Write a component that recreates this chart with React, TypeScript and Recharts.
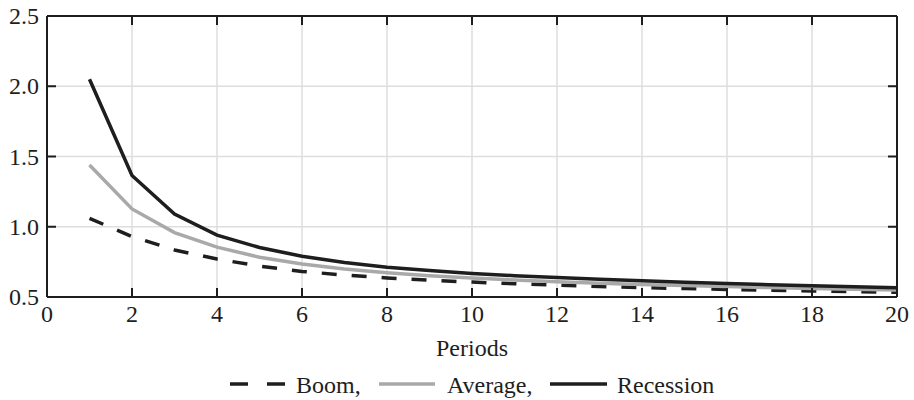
import React from "react";
import {
  LineChart,
  Line,
  XAxis,
  YAxis,
  CartesianGrid,
  ReferenceLine,
} from "recharts";

const periods = [1, 2, 3, 4, 5, 6, 7, 8, 9, 10, 11, 12, 13, 14, 15, 16, 17, 18, 19, 20];
const boom = [1.06, 0.93, 0.835, 0.77, 0.72, 0.682, 0.656, 0.636, 0.62, 0.606, 0.594, 0.584, 0.575, 0.567, 0.56, 0.554, 0.548, 0.543, 0.538, 0.533];
const average = [1.44, 1.127, 0.958, 0.855, 0.783, 0.735, 0.7, 0.673, 0.652, 0.635, 0.621, 0.609, 0.598, 0.589, 0.581, 0.574, 0.567, 0.561, 0.555, 0.55];
const recession = [2.05, 1.365, 1.09, 0.94, 0.852, 0.79, 0.745, 0.712, 0.688, 0.668, 0.652, 0.638, 0.626, 0.615, 0.605, 0.596, 0.588, 0.58, 0.573, 0.565];

const xTicks = [0, 2, 4, 6, 8, 10, 12, 14, 16, 18, 20];
const yTicks = [0.5, 1.0, 1.5, 2.0, 2.5];

const data = periods.map((p, i) => ({
  period: p,
  boom: boom[i],
  average: average[i],
  recession: recession[i],
}));

const FONT = "Liberation Serif";
const INK = "#1e1e1e";
const GRAY = "#a9a9a9";

// plot box edges, follow from the chart margins below
const PLOT_TOP = 16;
const PLOT_RIGHT = 897;
const TICK = 9;

// bottom label + the matching inward tick on the top frame
const XTick = (props: any) => {
  const { x, y, payload } = props;
  return (
    <g>
      <text x={x} y={y + 17} textAnchor="middle" fontFamily={FONT} fontSize={24} fill={INK}>
        {payload.value}
      </text>
      <line x1={x} x2={x} y1={PLOT_TOP} y2={PLOT_TOP + TICK} stroke={INK} strokeWidth={2} />
    </g>
  );
};

// left label + the matching inward tick on the right frame
const YTick = (props: any) => {
  const { x, y, payload } = props;
  return (
    <g>
      <text x={x} y={y + 8} textAnchor="end" fontFamily={FONT} fontSize={24} fill={INK}>
        {Number(payload.value).toFixed(1)}
      </text>
      <line x1={PLOT_RIGHT - TICK} x2={PLOT_RIGHT} y1={y} y2={y} stroke={INK} strokeWidth={2} />
    </g>
  );
};

export default function App() {
  return (
    <div style={{ position: "absolute", left: 0, top: 0, width: 914, height: 400, background: "#fff" }}>
      <LineChart
        width={914}
        height={400}
        data={data}
        margin={{ top: PLOT_TOP, right: 914 - PLOT_RIGHT, bottom: 44, left: 0 }}
      >
        <CartesianGrid stroke="#dedede" strokeWidth={1.5} />
        <XAxis
          dataKey="period"
          type="number"
          domain={[0, 20]}
          ticks={xTicks}
          height={59}
          tickSize={-TICK}
          tickMargin={17}
          tick={XTick}
          axisLine={{ stroke: INK, strokeWidth: 2 }}
          tickLine={{ stroke: INK, strokeWidth: 2 }}
          label={{
            value: "Periods",
            position: "insideBottom",
            offset: 0,
            fontSize: 24,
            fill: INK,
            fontFamily: FONT,
          }}
        />
        <YAxis
          type="number"
          domain={[0.5, 2.5]}
          ticks={yTicks}
          width={47}
          tickSize={-TICK}
          tickMargin={17}
          tick={YTick}
          axisLine={{ stroke: INK, strokeWidth: 2 }}
          tickLine={{ stroke: INK, strokeWidth: 2 }}
        />
        <ReferenceLine y={2.5} stroke={INK} strokeWidth={2} />
        <ReferenceLine x={20} stroke={INK} strokeWidth={2} />
        <Line
          dataKey="boom"
          stroke={INK}
          strokeWidth={3.5}
          strokeDasharray="15 15"
          dot={false}
          isAnimationActive={false}
          type="linear"
        />
        <Line
          dataKey="average"
          stroke={GRAY}
          strokeWidth={3.5}
          dot={false}
          isAnimationActive={false}
          type="linear"
        />
        <Line
          dataKey="recession"
          stroke={INK}
          strokeWidth={3.5}
          dot={false}
          isAnimationActive={false}
          type="linear"
        />
      </LineChart>
      <svg
        width={914}
        height={400}
        style={{ position: "absolute", left: 0, top: 0, pointerEvents: "none" }}
      >
        <line x1={230} x2={285} y1={384} y2={384} stroke={INK} strokeWidth={3.5} strokeDasharray="18 19" />
        <text x={296} y={393} fontFamily={FONT} fontSize={24} fill={INK}>Boom,</text>
        <line x1={379} x2={435} y1={384} y2={384} stroke={GRAY} strokeWidth={3.5} />
        <text x={447} y={393} fontFamily={FONT} fontSize={24} fill={INK}>Average,</text>
        <line x1={550} x2={607} y1={384} y2={384} stroke={INK} strokeWidth={3.5} />
        <text x={617} y={393} fontFamily={FONT} fontSize={24} fill={INK}>Recession</text>
      </svg>
    </div>
  );
}
